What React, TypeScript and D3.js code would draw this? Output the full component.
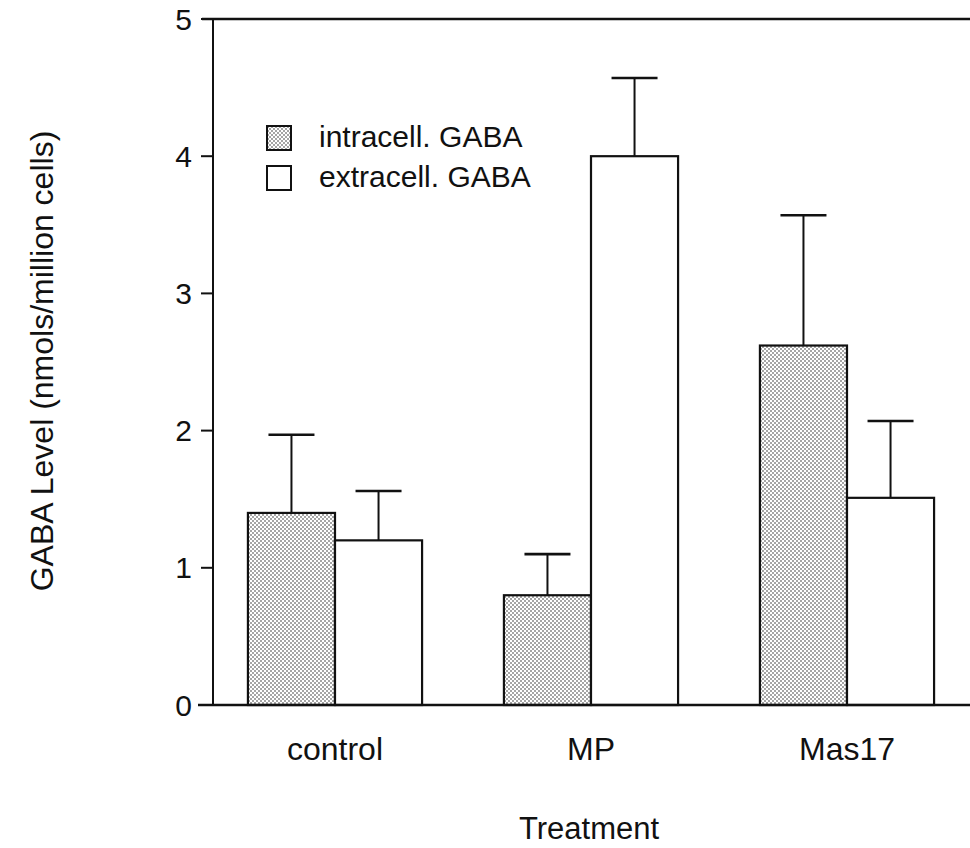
import React from "react";
import * as d3 from "d3";

// Treatment groups and GABA levels (nmols/million cells)
const categories = ["control", "MP", "Mas17"];
const intraMeans = [1.4, 0.8, 2.62];
const intraErrors = [0.57, 0.3, 0.95];
const extraMeans = [1.2, 4.0, 1.51];
const extraErrors = [0.36, 0.57, 0.56];
const yTicks = [0, 1, 2, 3, 4, 5];
const seriesKeys = ["intra", "extra"];
const seriesLabels = ["intracell. GABA", "extracell. GABA"];

const W = 970;
const H = 848;
const FONT = "'Liberation Sans', Arial, Helvetica, sans-serif";

export default function App() {
  const y = d3.scaleLinear().domain([0, 5]).range([705, 19]);
  const x = d3.scaleBand<string>().domain(categories).range([207, 975]).paddingInner(0).paddingOuter(0);
  const xs = d3.scaleBand<string>().domain(seriesKeys).range([0, x.bandwidth()]).paddingInner(0).paddingOuter(0.47);

  const rows = categories.map((c, i) => [
    { cat: c, key: "intra", v: intraMeans[i], e: intraErrors[i] },
    { cat: c, key: "extra", v: extraMeans[i], e: extraErrors[i] },
  ]).flat();

  const axisX = 213;
  const capHalf = 23;

  return (
    <svg width={W} height={H} style={{ position: "absolute", left: 0, top: 0, background: "#fff" }} fontFamily={FONT}>
      <defs>
        <pattern id="stipple" width={4} height={4} patternUnits="userSpaceOnUse">
          <rect width={4} height={4} fill="#fff" />
          <circle cx={1} cy={1} r={0.8} fill="#333" />
          <circle cx={3} cy={3} r={0.8} fill="#333" />
        </pattern>
      </defs>

      {/* bars with upward error bars */}
      {rows.map((d, i) => {
        const x0 = (x(d.cat) ?? 0) + (xs(d.key) ?? 0);
        const bw = xs.bandwidth();
        const cx = x0 + bw / 2;
        return (
          <g key={i}>
            <line x1={cx} x2={cx} y1={y(d.v)} y2={y(d.v + d.e)} stroke="#111" strokeWidth={2} />
            <line x1={cx - capHalf} x2={cx + capHalf} y1={y(d.v + d.e)} y2={y(d.v + d.e)} stroke="#111" strokeWidth={2.6} />
            <rect x={x0} y={y(d.v)} width={bw} height={y(0) - y(d.v)}
              fill={d.key === "intra" ? "url(#stipple)" : "#fff"} stroke="#111" strokeWidth={2.2} />
          </g>
        );
      })}

      {/* frame: left axis, top rule, baseline */}
      <line x1={axisX} x2={axisX} y1={y(5)} y2={y(0)} stroke="#111" strokeWidth={2} />
      <line x1={202} x2={W} y1={y(5)} y2={y(5)} stroke="#111" strokeWidth={2.4} />
      <line x1={198} x2={W} y1={y(0)} y2={y(0)} stroke="#111" strokeWidth={2.4} />

      {/* y ticks */}
      {yTicks.map((t) => (
        <g key={t}>
          <line x1={201} x2={axisX} y1={y(t)} y2={y(t)} stroke="#111" strokeWidth={2} />
          <text x={192} y={y(t)} dy="0.35em" textAnchor="end" fontSize={30} fill="#111">{t}</text>
        </g>
      ))}

      {/* category labels */}
      {categories.map((c) => (
        <text key={c} x={(x(c) ?? 0) + x.bandwidth() / 2} y={760} textAnchor="middle" fontSize={32} fill="#111">{c}</text>
      ))}

      {/* axis titles */}
      <text x={589} y={839} textAnchor="middle" fontSize={31} fill="#111">Treatment</text>
      <text transform={`translate(53,${361}) rotate(-90)`} textAnchor="middle" fontSize={32} fill="#111">
        GABA Level (nmols/million cells)
      </text>

      {/* legend */}
      {seriesKeys.map((k, i) => (
        <g key={k} transform={`translate(267,${126 + i * 40})`}>
          <rect x={0} y={0} width={24} height={24} fill={k === "intra" ? "url(#stipple)" : "#fff"} stroke="#111" strokeWidth={2} />
          <text x={52} y={21} fontSize={30} fill="#111">{seriesLabels[i]}</text>
        </g>
      ))}
    </svg>
  );
}
